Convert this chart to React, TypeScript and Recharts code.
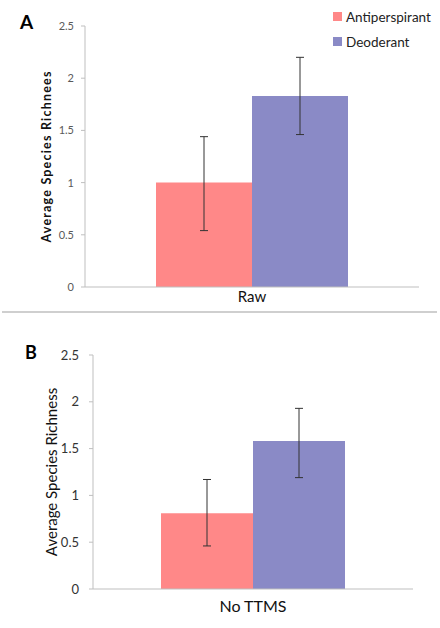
import { BarChart, Bar, XAxis, YAxis, ErrorBar, Legend } from "recharts";

const categoriesA = ["Raw"];
const antiperspirantA = [1.0];
const deoderantA = [1.83];
const antiperspirantErrA = [[0.46, 0.44]];
const deoderantErrA = [[0.37, 0.37]];

const categoriesB = ["No TTMS"];
const antiperspirantB = [0.81];
const deoderantB = [1.58];
const antiperspirantErrB = [[0.35, 0.36]];
const deoderantErrB = [[0.39, 0.35]];

const yTicks = [0, 0.5, 1, 1.5, 2, 2.5];
const edgeTicks = [0, 1];
const seriesNames = ["Antiperspirant", "Deoderant"];

const RED = "#ff8888";
const BLUE = "#8a8ac6";
const AXIS = "#bfbfbf";
const FONT = "Lato, 'Open Sans', sans-serif";

const dataA = categoriesA.map((c, i) => ({
  name: c,
  anti: antiperspirantA[i],
  deo: deoderantA[i],
  antiErr: antiperspirantErrA[i],
  deoErr: deoderantErrA[i],
}));

const dataB = categoriesB.map((c, i) => ({
  name: c,
  anti: antiperspirantB[i],
  deo: deoderantB[i],
  antiErr: antiperspirantErrB[i],
  deoErr: deoderantErrB[i],
}));

const LegendBox = () => (
  <div style={{ fontFamily: FONT, fontSize: 13.5, color: "#222" }}>
    {seriesNames.map((n, i) => (
      <div key={n} style={{ display: "flex", alignItems: "center", height: 25 }}>
        <span
          style={{
            display: "inline-block",
            width: 9,
            height: 9,
            background: i === 0 ? RED : BLUE,
            marginRight: 4,
          }}
        />
        {n}
      </div>
    ))}
  </div>
);

// the tiny ticks at both ends of the category axis
const EdgeAxis = () => (
  <XAxis
    xAxisId="edge"
    type="number"
    domain={[0, 1]}
    ticks={edgeTicks}
    height={0}
    axisLine={false}
    tickLine={{ stroke: AXIS }}
    tickSize={4}
    tick={false}
  />
);

export default function App() {
  return (
    <div
      style={{
        position: "absolute",
        left: 0,
        top: 0,
        width: 440,
        height: 628,
        background: "#fff",
        fontFamily: FONT,
      }}
    >
      <div style={{ position: "absolute", left: 20, top: 10, fontSize: 19, fontWeight: 700 }}>A</div>
      <div style={{ position: "absolute", left: 25, top: 341, fontSize: 18, fontWeight: 700 }}>B</div>

      <div style={{ position: "absolute", left: 0, top: 0 }}>
        <BarChart
          width={440}
          height={312}
          data={dataA}
          margin={{ top: 26, right: 21, bottom: 5, left: 45 }}
          barCategoryGap={71}
          barGap={0}
        >
          {EdgeAxis()}
          <XAxis
            dataKey="name"
            tickLine={false}
            axisLine={{ stroke: AXIS }}
            tick={{ fill: "#111", fontSize: 15, fontFamily: FONT }}
            tickSize={4}
            tickMargin={0}
            height={20}
          />
          <YAxis
            domain={[0, 2.5]}
            ticks={yTicks}
            width={40}
            axisLine={{ stroke: AXIS }}
            tickLine={{ stroke: AXIS }}
            tickSize={4}
            tickMargin={7}
            tick={{ fill: "#595959", fontSize: 11, fontFamily: FONT }}
            label={{
              value: "Average Species Richnees",
              angle: -90,
              position: "insideLeft",
              offset: 2,
              style: {
                textAnchor: "middle",
                fontSize: 12.5,
                letterSpacing: 1.2,
                fontWeight: 700,
                fill: "#111",
                fontFamily: FONT,
              },
            }}
          />
          <Legend
            layout="vertical"
            align="center"
            verticalAlign="middle"
            content={<LegendBox />}
            wrapperStyle={{ position: "absolute", top: 4, left: 333, width: 110, height: 50 }}
          />
          <Bar dataKey="anti" name={seriesNames[0]} fill={RED} isAnimationActive={false}>
            <ErrorBar dataKey="antiErr" width={4} stroke="#333" strokeWidth={1} direction="y" />
          </Bar>
          <Bar dataKey="deo" name={seriesNames[1]} fill={BLUE} isAnimationActive={false}>
            <ErrorBar dataKey="deoErr" width={4} stroke="#333" strokeWidth={1} direction="y" />
          </Bar>
        </BarChart>
      </div>

      <div
        style={{
          position: "absolute",
          left: 2,
          top: 311,
          width: 435,
          height: 2,
          background: "#cfcfcf",
        }}
      />

      <div style={{ position: "absolute", left: 0, top: 312 }}>
        <BarChart
          width={440}
          height={316}
          data={dataB}
          margin={{ top: 43, right: 27, bottom: 19, left: 53 }}
          barCategoryGap={68}
          barGap={0}
        >
          {EdgeAxis()}
          <XAxis
            dataKey="name"
            tickLine={false}
            axisLine={{ stroke: AXIS }}
            tick={{ fill: "#111", fontSize: 16, fontFamily: FONT }}
            tickSize={4}
            tickMargin={8}
            height={20}
          />
          <YAxis
            domain={[0, 2.5]}
            ticks={yTicks}
            width={40}
            axisLine={{ stroke: AXIS }}
            tickLine={{ stroke: AXIS }}
            tickSize={4}
            tickMargin={10}
            tick={{ fill: "#333", fontSize: 13, fontFamily: FONT }}
            label={{
              value: "Average Species Richness",
              angle: -90,
              position: "insideLeft",
              offset: -1,
              style: { textAnchor: "middle", fontSize: 15, fill: "#111", fontFamily: FONT },
            }}
          />
          <Bar dataKey="anti" name={seriesNames[0]} fill={RED} isAnimationActive={false}>
            <ErrorBar dataKey="antiErr" width={4} stroke="#333" strokeWidth={1} direction="y" />
          </Bar>
          <Bar dataKey="deo" name={seriesNames[1]} fill={BLUE} isAnimationActive={false}>
            <ErrorBar dataKey="deoErr" width={4} stroke="#333" strokeWidth={1} direction="y" />
          </Bar>
        </BarChart>
      </div>
    </div>
  );
}
